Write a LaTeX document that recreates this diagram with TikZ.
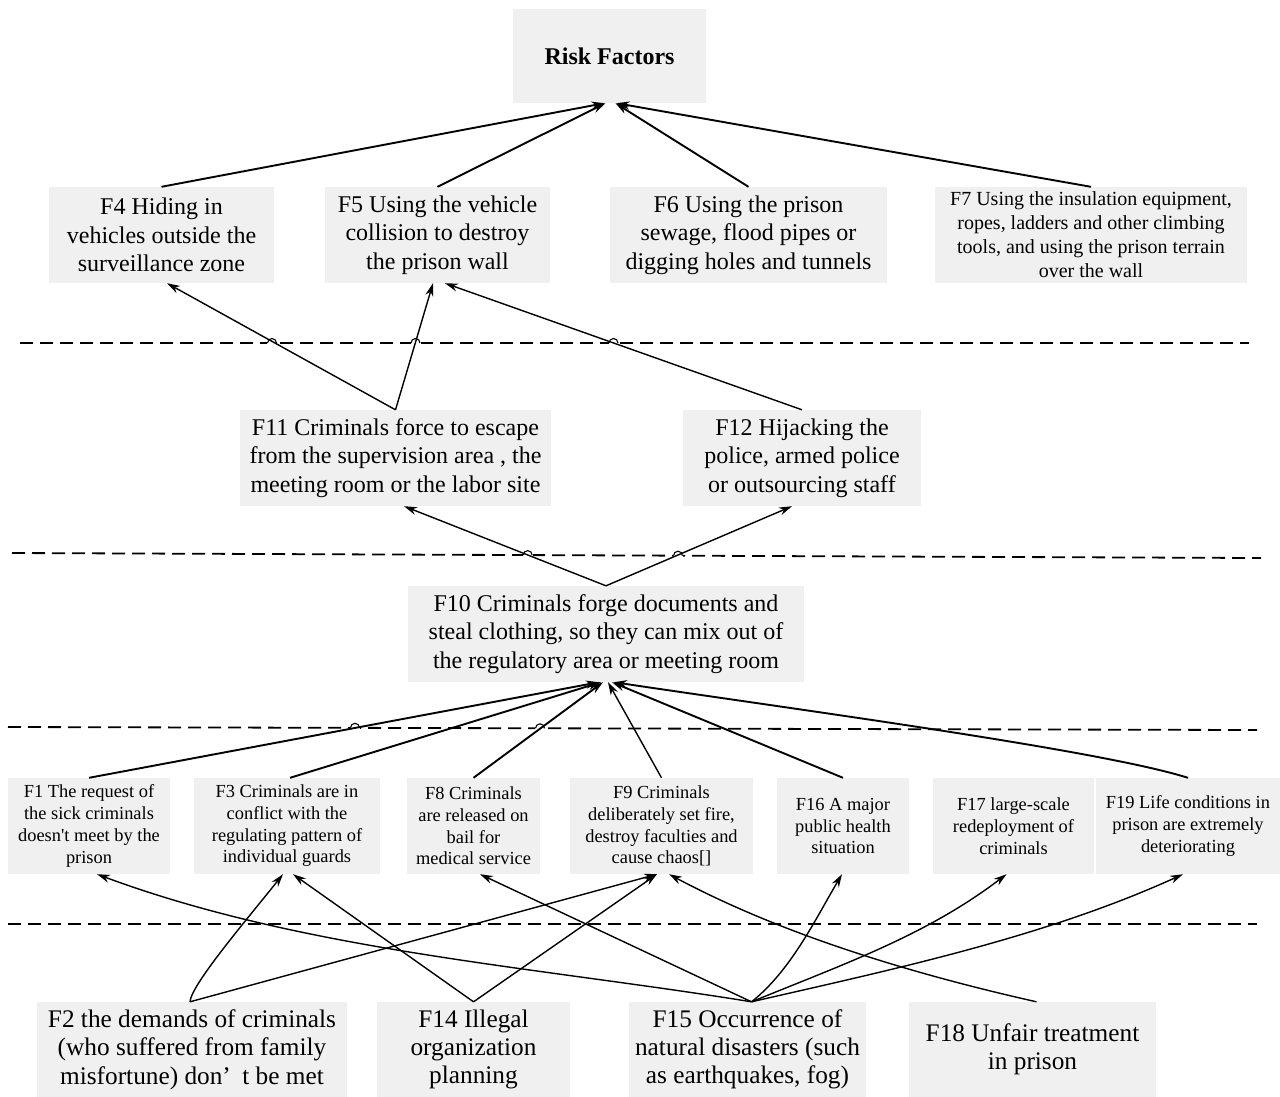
\documentclass[tikz,border=0pt]{standalone}
\usepackage{fontspec}
\setmainfont{Liberation Serif}
\usetikzlibrary{arrows.meta}
\definecolor{boxgray}{RGB}{240,240,240}
\begin{document}
\begin{tikzpicture}[x=1pt,y=-1pt,
  box/.style={fill=boxgray, inner sep=0pt, align=center},
  txtbig/.style={font=\fontsize{24}{28.5}\selectfont},
  txtmid/.style={font=\fontsize{20}{24}\selectfont},
  txtsml/.style={font=\fontsize{18.4}{21.7}\selectfont},
  txtbot/.style={font=\fontsize{25.3}{28.3}\selectfont},
  arr/.style={-{Stealth[length=13pt,width=8pt]}, line width=1.4pt},
  arrthick/.style={-{Stealth[length=13pt,width=8pt]}, line width=1.9pt},
  sep/.style={dash pattern=on 13pt off 7pt, line width=1.8pt},
  hopline/.style={line width=1.1pt}
]
\useasboundingbox (0,0) rectangle (1280,1096);

% ---------- separators ----------
\coordinate (d1a) at (20,343);  \coordinate (d1b) at (1249,343);
\coordinate (d2a) at (12,553);  \coordinate (d2b) at (1261,558);
\coordinate (d3a) at (8,727);   \coordinate (d3b) at (1257,730);
\coordinate (d4a) at (8,924);   \coordinate (d4b) at (1257,924);
\draw[sep] (d1a) -- (d1b);
\draw[sep] (d2a) -- (d2b);
\draw[sep] (d3a) -- (d3b);
\draw[sep] (d4a) -- (d4b);
% line hops
\foreach \hx/\hy in {272/343, 415.5/343, 613.5/343, 527.7/555.1, 678/555.7, 355/727.8, 540/728.3}{
  \fill[white] (\hx-5,\hy-2) rectangle (\hx+5,\hy+2);
  \draw[hopline] (\hx-4.5,\hy) arc[start angle=180,end angle=360,radius=4.5];
}

% ---------- nodes ----------
\node[box,minimum width=193pt,minimum height=94pt,font=\fontsize{24}{28.5}\selectfont\bfseries] (rf) at (609.5,56) {Risk Factors};

\node[box,txtbig,minimum width=225pt,minimum height=96pt] (f4) at (161.5,235) {F4 Hiding in\\vehicles outside the\\surveillance zone};
\node[box,txtbig,minimum width=225pt,minimum height=96pt] (f5) at (437.5,235) {F5 Using the vehicle\\collision to destroy\\the prison wall};
\node[box,txtbig,minimum width=277pt,minimum height=96pt] (f6) at (748.5,235) {F6 Using the prison\\sewage, flood pipes or\\digging holes and tunnels};
\node[box,txtmid,minimum width=312pt,minimum height=96pt] (f7) at (1091,235) {F7 Using the insulation equipment,\\ropes, ladders and other climbing\\tools, and using the prison terrain\\over the wall};

\node[box,txtbig,minimum width=311pt,minimum height=96pt] (f11) at (395.5,458) {F11 Criminals force to escape\\from the supervision area , the\\meeting room or the labor site};
\node[box,txtbig,minimum width=238pt,minimum height=96pt] (f12) at (802,458) {F12 Hijacking the\\police, armed police\\or outsourcing staff};

\node[box,txtbig,minimum width=396pt,minimum height=96pt] (f10) at (606,634) {F10 Criminals forge documents and\\steal clothing, so they can mix out of\\the regulatory area or meeting room};

\node[box,txtsml,minimum width=162pt,minimum height=96pt] (f1) at (89,826) {F1 The request of\\the sick criminals\\doesn\textquotesingle t meet by the\\prison};
\node[box,txtsml,minimum width=186pt,minimum height=96pt] (f3) at (287,826) {F3 Criminals are in\\conflict with the\\regulating pattern of\\individual guards};
\node[box,txtsml,minimum width=133pt,minimum height=96pt] (f8) at (473.5,826) {F8 Criminals\\are released on\\bail for\\medical service};
\node[box,txtsml,minimum width=183pt,minimum height=96pt] (f9) at (661.5,826) {F9 Criminals\\deliberately set fire,\\destroy faculties and\\cause chaos[]};
\node[box,txtsml,minimum width=132pt,minimum height=96pt] (f16) at (843,826) {F16 A major\\public health\\situation};
\node[box,txtsml,minimum width=161pt,minimum height=96pt] (f17) at (1013.5,826) {F17 large-scale\\redeployment of\\criminals};
\node[box,txtsml,minimum width=184pt,minimum height=96pt] (f19) at (1188,826) {F19 Life conditions in\\prison are extremely\\deteriorating};

\node[box,txtbot,minimum width=310pt,minimum height=95pt] (f2) at (192,1049.5) {F2 the demands of criminals\\(who suffered from family\\misfortune) don’\hspace{0.45em}t be met};
\node[box,txtbot,minimum width=193pt,minimum height=95pt] (f14) at (473.5,1049.5) {F14 Illegal\\organization\\planning};
\node[box,txtbot,minimum width=237pt,minimum height=95pt] (f15) at (747.5,1049.5) {F15 Occurrence of\\natural disasters (such\\as earthquakes, fog)};
\node[box,txtbot,minimum width=247pt,minimum height=95pt] (f18) at (1032.5,1049.5) {F18 Unfair treatment\\in prison};

% ---------- connectors: level 1 ----------
\draw[arrthick] (f4.north) -- ([xshift=-5]rf.south);
\draw[arrthick] (f5.north) -- ([xshift=-4]rf.south);
\draw[arrthick] (f6.north) -- ([xshift=6]rf.south);
\draw[arrthick] (f7.north) -- ([xshift=7]rf.south);

% ---------- level 2 ----------
\draw[arr] (f11.north) -- ([xshift=5.5]f4.south);
\draw[arr] (f11.north) -- ([xshift=-4.5]f5.south);
\draw[arr] (f12.north) -- ([xshift=7.5]f5.south);

% ---------- level 3 ----------
\draw[arr] (f10.north) -- ([xshift=8.5]f11.south);
\draw[arr] (f10.north) -- ([xshift=-10]f12.south);

% ---------- level 4 ----------
\draw[arrthick] (f1.north) -- ([xshift=-7]f10.south);
\draw[arrthick] ([xshift=3]f3.north) -- ([xshift=-5]f10.south);
\draw[arrthick] (f8.north) -- ([xshift=-3]f10.south);
\draw[arr] (f9.north) -- ([xshift=2]f10.south);
\draw[arrthick] (f16.north) -- ([xshift=6]f10.south);
\draw[arrthick] (f19.north) .. controls (1100,750) and (800,710) .. ([xshift=8]f10.south);

% ---------- level 5 ----------
\draw[arr] ([xshift=-2]f2.north) .. controls (191,985) and (245.6,921) .. ([xshift=-4]f3.south);
\draw[arr] ([xshift=-2]f2.north) -- ([xshift=-4.5]f9.south);
\draw[arr] (f14.north) -- ([xshift=6]f3.south);
\draw[arr] (f14.north) -- ([xshift=-4.5]f9.south);
\draw[arr] ([xshift=4]f15.north) .. controls (534.3,966.6) and (303.9,951) .. ([xshift=8]f1.south);
\draw[arr] ([xshift=4]f15.north) -- ([xshift=6.5]f8.south);
\draw[arr] ([xshift=4]f15.north) .. controls (791,970.7) and (816,918) .. ([xshift=-1]f16.south);
\draw[arr] ([xshift=4]f15.north) .. controls (844.7,963.7) and (926.7,935) .. ([xshift=-7]f17.south);
\draw[arr] ([xshift=4]f15.north) .. controls (898,968.3) and (1046,936.5) .. ([xshift=-5]f19.south);
\draw[arr] ([xshift=4]f18.north) .. controls (913,974) and (783,935) .. ([xshift=7.5]f9.south);
\end{tikzpicture}
\end{document}
